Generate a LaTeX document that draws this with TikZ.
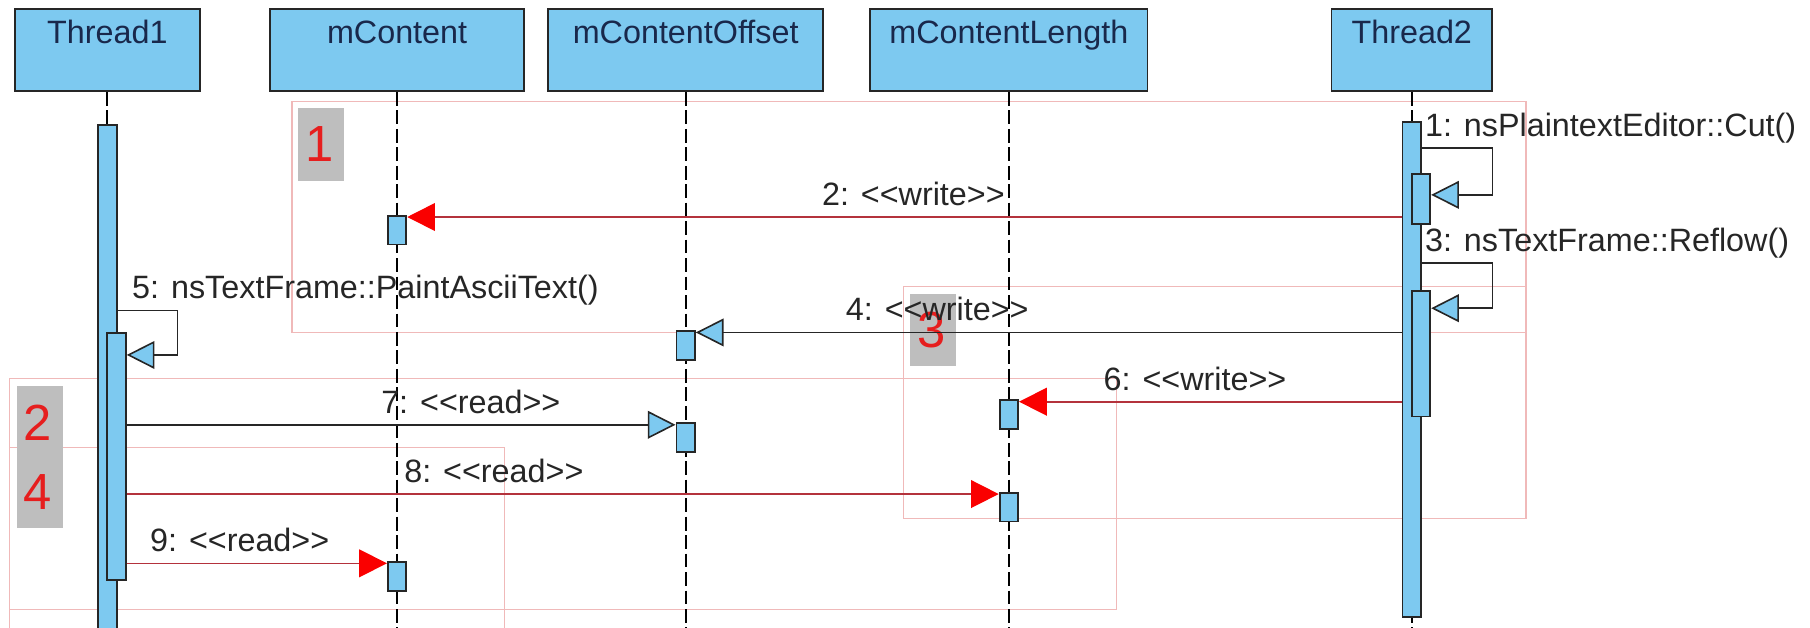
\documentclass[tikz,border=0pt]{standalone}
\usepackage{fontspec}
\setmainfont{Liberation Sans}
\usepackage{tikz}
\usetikzlibrary{arrows.meta,positioning,calc}

\definecolor{lifeblue}{RGB}{125,201,240}
\definecolor{headnavy}{RGB}{25,40,75}
\definecolor{framepink}{RGB}{240,185,185}
\definecolor{taggrey}{RGB}{190,190,190}
\definecolor{tagred}{RGB}{230,30,30}
\definecolor{msgred}{RGB}{180,50,60}
\definecolor{tipred}{RGB}{250,0,0}

\newcommand\dlt{<\kern0pt<}
\newcommand\dgt{>\kern0pt>}

\begin{document}
\begin{tikzpicture}[x=0.5pt,y=-0.5pt,
  head/.style={draw=black!85, fill=lifeblue, line width=0.8pt, anchor=north, inner xsep=0pt, inner ysep=3pt,
               text height=12pt, text depth=17.5pt, font=\fontsize{14}{16}\selectfont, text=headnavy},
  bar/.style={draw=black!85, fill=lifeblue, line width=0.8pt, anchor=north, minimum width=8pt, inner sep=0pt},
  act/.style={bar, minimum height=12.5pt},
  life/.style={draw=black, line width=0.9pt, dash pattern=on 6pt off 2pt},
  frame/.style={draw=framepink, line width=0.5pt},
  tag/.style={fill=taggrey, text=tagred, anchor=north west, inner xsep=3pt, inner ysep=0pt,
              text width=14pt, minimum height=31.5pt, align=left, font=\fontsize{22}{22}\selectfont},
  call/.style={draw=black!85, line width=0.7pt, -{Triangle[length=12pt,width=12pt,fill=lifeblue]}},
  acc/.style={draw=msgred, line width=0.7pt, -{Triangle[length=12pt,width=12pt,color=tipred]}},
  lbl/.style={font=\fontsize{14}{16}\selectfont, text=black!85, inner sep=0pt, anchor=base, yshift=5pt}
]
\useasboundingbox (0,0) rectangle (1568,544);
\coordinate (bot) at (0,548);

% frames
\draw[frame] (253,88) rectangle (1322,288);
\draw[frame] (783,248) rectangle (1322,449);
\draw[frame] (8,328) rectangle (967,528);
\draw[frame] (8,388) rectangle (437,560);
\node[tag] (g1) at (258,93)  {1};
\node[tag] (g3) at (788,254) {3};
\node[tag] (g2) at (14,334)  {2};
\node[tag] (g4) at (14,394)  {4};

% lifelines
\node[head, minimum width=80pt]    (t1)  at (93,7)    {Thread1};
\node[head, minimum width=110pt]   (mc)  at (344,7)   {mContent};
\node[head, minimum width=119pt]   (mco) at (594,7)   {mContentOffset};
\node[head, minimum width=120pt]   (mcl) at (874,7)   {mContentLength};
\node[head, minimum width=69.5pt]  (t2)  at (1223,7)  {Thread2};

\draw[life] (t1.south)  -- (t1.south |- bot);
\draw[life] (mc.south)  -- (mc.south |- bot);
\draw[life] (mco.south) -- (mco.south |- bot);
\draw[life] (mcl.south) -- (mcl.south |- bot);
\draw[life] (t2.south)  -- (t2.south |- bot);

% activations
\node[bar, minimum height=222pt]   (t1a)  at (93,107.5) {};
\node[bar, minimum height=107pt]   (t1i)  at (101,288)  {};
\node[bar, minimum height=214.5pt] (t2a)  at (1223,105) {};
\node[bar, minimum height=21.5pt]  (t2i1) at (1231,150) {};
\node[bar, minimum height=54.5pt]  (t2i2) at (1231,251) {};

\node[act] (mca)  at (344,186) {};
\node[act] (mcoa) at (594,286) {};
\node[act] (mcla) at (874,346) {};
\node[act] (mcob) at (594,366) {};
\node[act] (mclb) at (874,426) {};
\node[act] (mcb)  at (344,486) {};

% messages
\draw[call] ([yshift=-11.5pt]t2a.north east) node[lbl, anchor=base west, xshift=1pt] {1: nsPlaintextEditor::Cut()}
  -- ++(61,0) |- ([yshift=1.75pt]t2i1.east);
\draw[acc] ([yshift=-1pt]t2a.west |- mca.north) -- node[lbl, pos=0.491] {2: \dlt write\dgt} ([yshift=-1pt]mca.north east);
\draw[call] ([yshift=-61.5pt]t2a.north east) node[lbl, anchor=base west, xshift=1pt] {3: nsTextFrame::Reflow()}
  -- ++(61,0) |- ([yshift=-8pt]t2i2.north east);
\draw[call] ([yshift=-1pt]t2a.west |- mcoa.north) -- node[lbl, pos=0.658] {4: \dlt write\dgt} ([yshift=-1pt]mcoa.north east);
\draw[call] ([yshift=-80.75pt]t1a.north east) node[lbl, anchor=base west, xshift=6pt] {5: nsTextFrame::PaintAsciiText()}
  -- ++(52,0) |- ([yshift=-9.75pt]t1i.north east);
\draw[acc] ([yshift=-1pt]t2a.west |- mcla.north) -- node[lbl, pos=0.54] {6: \dlt write\dgt} ([yshift=-1pt]mcla.north east);
\draw[call] ([yshift=-1pt]t1i.east |- mcob.north) -- node[lbl, pos=0.627] {7: \dlt read\dgt} ([yshift=-1pt]mcob.north west);
\draw[acc] ([yshift=-1pt]t1i.east |- mclb.north) -- node[lbl, pos=0.421] {8: \dlt read\dgt} ([yshift=-1pt]mclb.north west);
\draw[acc] ([yshift=-1pt]t1i.east |- mcb.north) -- node[lbl, pos=0.434] {9: \dlt read\dgt} ([yshift=-1pt]mcb.north west);
\end{tikzpicture}
\end{document}
